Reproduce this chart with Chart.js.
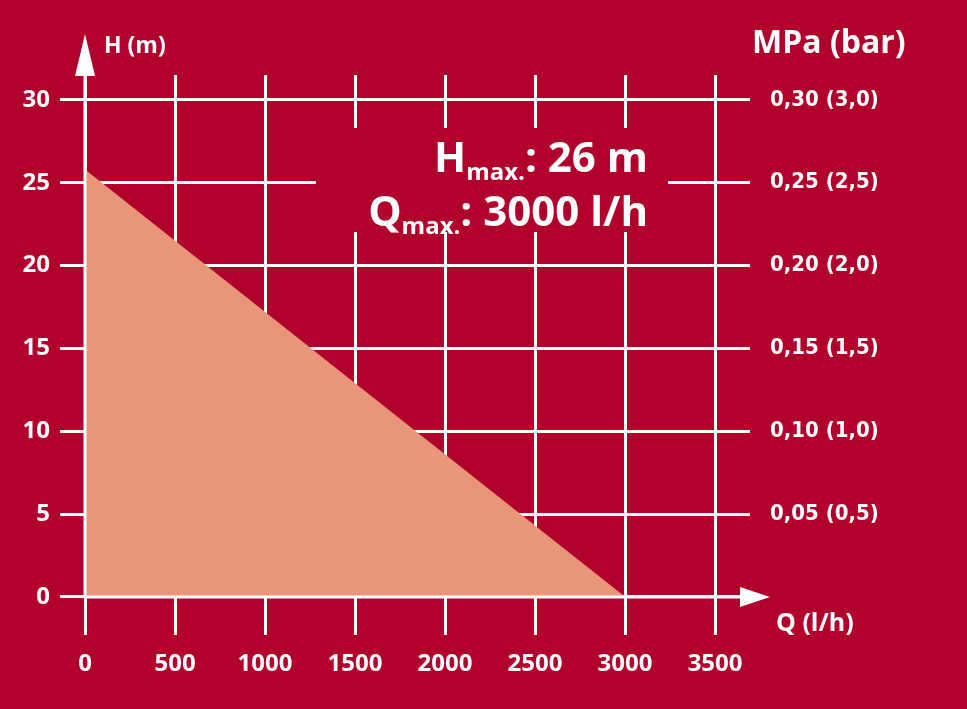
<!DOCTYPE html>
<html><head><meta charset="utf-8">
<script src="https://cdn.jsdelivr.net/npm/chart.js@4/dist/chart.umd.min.js"></script>
<style>
html,body{margin:0;padding:0;background:#b0002b;}
#wrap{width:967px;height:709px;}
</style></head>
<body><div id="wrap"><canvas id="c"></canvas></div>
<script>
"use strict";

const flowTicks = [0, 500, 1000, 1500, 2000, 2500, 3000, 3500];
const headTicks = [0, 5, 10, 15, 20, 25, 30];
const pressureLabels = ["", "0,05 (0,5)", "0,10 (1,0)", "0,15 (1,5)", "0,20 (2,0)", "0,25 (2,5)", "0,30 (3,0)"];
const curveFlow = [0, 3000];
const curveHead = [25.8, 0];

const BG = "#b0002b";
const FILL = "#e8957a";

const decor = {
  id: "decor",
  afterDraw(chart) {
    const ctx = chart.ctx;
    const x = chart.scales.x, y = chart.scales.y;
    const x0 = x.getPixelForValue(0), y0 = y.getPixelForValue(0);
    ctx.save();
    // mask behind the annotation
    ctx.fillStyle = BG;
    ctx.fillRect(316, 128, 352, 104);
    // axes arrows
    ctx.strokeStyle = "#fff"; ctx.fillStyle = "#fff"; ctx.lineWidth = 3;
    ctx.beginPath(); ctx.moveTo(x0, y0); ctx.lineTo(x0, 70); ctx.stroke();
    ctx.beginPath(); ctx.moveTo(x0, 34); ctx.lineTo(x0 - 10, 76); ctx.lineTo(x0 + 10, 76); ctx.fill();
    ctx.beginPath(); ctx.moveTo(x0, y0); ctx.lineTo(745, y0); ctx.stroke();
    ctx.beginPath(); ctx.moveTo(770, y0); ctx.lineTo(740, y0 - 10); ctx.lineTo(740, y0 + 10); ctx.fill();
    // tick labels
    ctx.font = "bold 24px 'Open Sans'";
    ctx.textAlign = "center"; ctx.textBaseline = "middle";
    flowTicks.forEach(v => ctx.fillText(String(v), x.getPixelForValue(v), 664));
    ctx.textAlign = "right";
    headTicks.forEach(v => ctx.fillText(String(v), 50, y.getPixelForValue(v)));
    ctx.font = "bold 22px 'DejaVu Sans Condensed', 'DejaVu Sans'";
    ctx.textAlign = "left";
    headTicks.forEach((v, i) => ctx.fillText(pressureLabels[i], 770, y.getPixelForValue(v)));
    // axis titles
    ctx.font = "bold 23px 'Open Sans'";
    ctx.fillText("H (m)", 104, 46);
    ctx.font = "bold 25px 'Open Sans'";
    ctx.fillText("Q (l/h)", 776, 624);
    ctx.font = "bold 32px 'Open Sans'";
    ctx.fillText("MPa (bar)", 752, 44);
    // annotation
    ctx.textBaseline = "alphabetic";
    function line(big1, sub, big2, right, base) {
      ctx.font = "bold 42px 'Open Sans'";
      const w1 = ctx.measureText(big1).width, w3 = ctx.measureText(big2).width;
      ctx.font = "bold 24px 'Open Sans'";
      const w2 = ctx.measureText(sub).width;
      const sx = right - w1 - w2 - w3;
      ctx.font = "bold 42px 'Open Sans'"; ctx.fillText(big1, sx, base);
      ctx.font = "bold 24px 'Open Sans'"; ctx.fillText(sub, sx + w1, base + 8);
      ctx.font = "bold 42px 'Open Sans'"; ctx.fillText(big2, sx + w1 + w2, base);
    }
    line("H", "max.", ": 26 m", 648, 172);
    line("Q", "max.", ": 3000 l/h", 648, 226);
    ctx.restore();
  }
};

new Chart(document.getElementById("c"), {
  type: "line",
  data: {
    datasets: [{
      data: curveFlow.map((f, i) => ({ x: f, y: curveHead[i] })),
      borderWidth: 0, pointRadius: 0,
      backgroundColor: FILL, fill: "origin"
    }]
  },
  options: {
    responsive: true, maintainAspectRatio: false, animation: false,
    devicePixelRatio: 1,
    layout: { padding: { left: 60, right: 217, top: 75, bottom: 74 } },
    plugins: { legend: { display: false }, tooltip: { enabled: false } },
    scales: {
      x: {
        type: "linear", min: -139, max: 3694,
        afterBuildTicks: s => { s.ticks = flowTicks.map(v => ({ value: v })); },
        ticks: { display: false },
        border: { display: false },
        grid: { color: "#fff", lineWidth: 3, drawTicks: false }
      },
      y: {
        type: "linear", min: -2.3, max: 31.5,
        afterBuildTicks: s => { s.ticks = headTicks.map(v => ({ value: v })); },
        ticks: { display: false },
        border: { display: false },
        grid: { color: "#fff", lineWidth: 3, drawTicks: false }
      }
    }
  },
  plugins: [decor]
});
</script>
</body></html>
